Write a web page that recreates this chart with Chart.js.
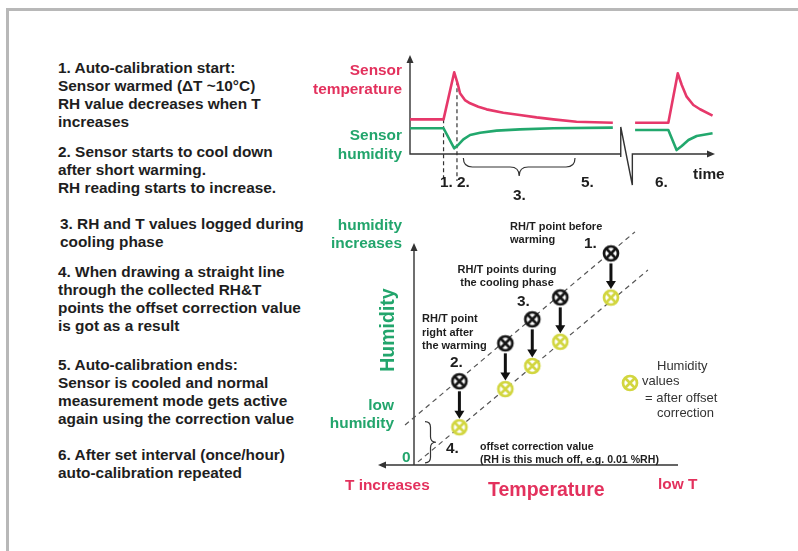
<!DOCTYPE html>
<html lang="en">
<head>
<meta charset="UTF-8">
<title>Auto-calibration</title>
<script src="https://cdn.jsdelivr.net/npm/chart.js"></script>
<style>
  body { margin: 0; background: #fff; }
  #page { position: relative; width: 798px; height: 551px; overflow: hidden;
          font-family: "Liberation Sans", Arial, sans-serif; color: #1e1e1e; }
  #frame { position: absolute; left: 6px; top: 8px; width: 820px; height: 560px;
           border-left: 3px solid #b8b8b8; border-top: 3px solid #b8b8b8; }
  .t { position: absolute; white-space: nowrap; font-weight: bold; font-size: 15.4px; line-height: 18px; }
  .steps { position: absolute; left: 58px; white-space: nowrap; font-weight: bold; font-size: 15.4px; line-height: 18px; }
  .small { position: absolute; white-space: nowrap; font-weight: bold; font-size: 11px; line-height: 13.4px; }
  .note { position: absolute; white-space: nowrap; font-size: 13px; line-height: 16px; color: #333; }
  .red { color: #e3315d; }
  .green { color: #22a56c; }
  canvas { position: absolute; }
</style>
</head>
<body>
<div id="page">
  <div id="frame"></div>

  <div class="steps" style="top:59px">1. Auto-calibration start:<br>Sensor warmed (ΔT ~10°C)<br>RH value decreases when T<br>increases</div>
  <div class="steps" style="top:143px">2. Sensor starts to cool down<br>after short warming.<br>RH reading starts to increase.</div>
  <div class="steps" style="top:215px;left:60px">3. RH and T values logged during<br>cooling phase</div>
  <div class="steps" style="top:263px">4. When drawing a straight line<br>through the collected RH&amp;T<br>points the offset correction value<br>is got as a result</div>
  <div class="steps" style="top:356px">5. Auto-calibration ends:<br>Sensor is cooled and normal<br>measurement mode gets active<br>again using the correction value</div>
  <div class="steps" style="top:446px">6. After set interval (once/hour)<br>auto-calibration repeated</div>

  <canvas id="timeChart" width="340" height="150" style="left:395px;top:45px"></canvas>
  <canvas id="rhtChart" width="350" height="270" style="left:350px;top:215px"></canvas>

  <!-- top chart labels -->
  <div class="t red" style="right:396px;top:60px;text-align:right;line-height:19px">Sensor<br>temperature</div>
  <div class="t green" style="right:396px;top:125px;text-align:right;line-height:19px">Sensor<br>humidity</div>
  <div class="t" style="left:440px;top:173px">1.</div>
  <div class="t" style="left:457px;top:173px">2.</div>
  <div class="t" style="left:513px;top:186px">3.</div>
  <div class="t" style="left:581px;top:173px">5.</div>
  <div class="t" style="left:655px;top:173px">6.</div>
  <div class="t" style="left:693px;top:165px">time</div>

  <!-- bottom chart labels -->
  <div class="t green" style="right:396px;top:216px;text-align:right">humidity<br>increases</div>
  <div class="t green" style="right:404px;top:396px;text-align:right">low<br>humidity</div>
  <div class="t green" style="left:402px;top:448px">0</div>
  <div class="t green" style="left:387px;top:330px;font-size:19.5px;transform:translate(-50%,-50%) rotate(-90deg)">Humidity</div>
  <div class="t red" style="left:345px;top:476px">T increases</div>
  <div class="t red" style="left:488px;top:478px;font-size:19.5px;line-height:23px">Temperature</div>
  <div class="t red" style="left:658px;top:475px">low T</div>

  <div class="small" style="left:510px;top:220px">RH/T point before<br>warming</div>
  <div class="t" style="left:584px;top:234px">1.</div>
  <div class="small" style="left:507px;top:263px;transform:translateX(-50%);text-align:center;line-height:12.8px">RH/T points during<br>the cooling phase</div>
  <div class="t" style="left:517px;top:292px">3.</div>
  <div class="small" style="left:422px;top:312px;line-height:13.7px">RH/T point<br>right after<br>the warming</div>
  <div class="t" style="left:450px;top:353px">2.</div>
  <div class="t" style="left:446px;top:439px">4.</div>
  <div class="small" style="left:480px;top:440px;font-size:10.6px;line-height:12.5px">offset correction value<br>(RH is this much off, e.g. 0.01 %RH)</div>

  <div class="note" style="left:657px;top:358px">Humidity</div>
  <div class="note" style="left:642px;top:373px">values</div>
  <div class="note" style="left:645px;top:390px">= after offset</div>
  <div class="note" style="left:657px;top:405px">correction</div>
</div>

<script>
  // top chart: one auto-calibration cycle, then the start of the next one
  const tempTimes = [0, 11, 14.5, 15.6, 16.4, 18, 19.7, 22.4, 25.1, 30.6, 36, 41.5, 47, 54.6, 66.5];
  const tempValues = [35, 35, 82.5, 71.4, 61.3, 54.5, 51.2, 47.8, 45.1, 41.7, 39.4, 37, 35, 32.6, 31.6];
  const humTimes = [0, 11, 14.5, 15.8, 17.5, 19.7, 23, 28.4, 36, 47, 66.5];
  const humValues = [26, 26, 5.7, 9.1, 14.8, 19.2, 21.5, 23.6, 24.9, 26, 26.6];
  const nextTempTimes = [73.8, 84.7, 87.8, 89.1, 90.7, 92.9, 95.1, 99.2];
  const nextTempValues = [31.6, 31.6, 81.5, 69.7, 57.9, 49.5, 45.2, 38.7];
  const nextHumTimes = [73.8, 84.7, 87.4, 89.1, 91.3, 94, 99.2];
  const nextHumValues = [24.2, 24.2, 4, 8.1, 14.1, 18.2, 20.9];
  const stepTimes = [11, 15.4];       // dashed lines at step 1. and 2.
  const coolingPhase = [17.5, 54.1];  // brace for step 3.
  const axisBreak = [69.1, 72.9];

  // bottom chart: RH/T points (temperature axis runs right to left)
  const pointTemps = [25.4, 44.6, 55.2, 65.4, 82.8];
  const rawHumidity = [95.3, 75.5, 65.6, 54.8, 37.7];
  const correctedHumidity = [75.4, 55.5, 44.6, 34.2, 17];
  const rawLineTemps = [103.4, 16.3];
  const rawLineHumidity = [18, 105];
  const fitLineTemps = [98.5, 11.4];
  const fitLineHumidity = [1.4, 87.8];
  const offsetSpan = [1, 19.5];

  const RED = '#e6386a';
  const GREEN = '#22a86d';
  const YELLOW = '#d2d640';
  const INK = '#333';

  const pts = (xs, ys) => xs.map((x, i) => ({ x: x, y: ys[i] }));

  function valueAt(xs, ys, t) {
    for (let i = 1; i < xs.length; i++) {
      if (t <= xs[i]) return ys[i - 1] + (ys[i] - ys[i - 1]) * (t - xs[i - 1]) / (xs[i] - xs[i - 1]);
    }
    return ys[ys.length - 1];
  }

  function arrowHead(ctx, x, y, dir, len, half) {
    ctx.beginPath();
    ctx.moveTo(x, y);
    if (dir === 'up') { ctx.lineTo(x - half, y + len); ctx.lineTo(x + half, y + len); }
    if (dir === 'down') { ctx.lineTo(x - half, y - len); ctx.lineTo(x + half, y - len); }
    if (dir === 'right') { ctx.lineTo(x - len, y - half); ctx.lineTo(x - len, y + half); }
    if (dir === 'left') { ctx.lineTo(x + len, y - half); ctx.lineTo(x + len, y + half); }
    ctx.closePath();
    ctx.fill();
  }

  function makeMarker(color) {
    const c = document.createElement('canvas');
    c.width = 20; c.height = 20;
    const g = c.getContext('2d');
    g.fillStyle = '#fff';
    g.strokeStyle = color;
    g.lineWidth = 2.7;
    g.beginPath(); g.arc(10, 10, 7, 0, Math.PI * 2); g.fill(); g.stroke();
    const d = 4.7;
    g.beginPath();
    g.moveTo(10 - d, 10 - d); g.lineTo(10 + d, 10 + d);
    g.moveTo(10 + d, 10 - d); g.lineTo(10 - d, 10 + d);
    g.stroke();
    return c;
  }
  const rawMarker = makeMarker('#151515');
  const corrMarker = makeMarker(YELLOW);

  const baseOptions = (padding, xOpts) => ({
    responsive: false,
    animation: false,
    events: [],
    layout: { padding: padding },
    plugins: { legend: { display: false }, tooltip: { enabled: false } },
    scales: {
      x: Object.assign({ type: 'linear', min: 0, max: 100, display: false }, xOpts),
      y: { type: 'linear', min: 0, max: 100, display: false }
    }
  });

  const timeDecor = {
    id: 'timeDecor',
    beforeDatasetsDraw(chart) {
      const { ctx, chartArea: a, scales: { x, y } } = chart;
      const y0 = y.getPixelForValue(0);
      const b0 = x.getPixelForValue(axisBreak[0]);
      const b1 = x.getPixelForValue(axisBreak[1]);
      ctx.save();
      ctx.strokeStyle = INK; ctx.fillStyle = INK; ctx.lineWidth = 1.4;
      ctx.beginPath();
      ctx.moveTo(a.left, a.top + 6); ctx.lineTo(a.left, y0); ctx.lineTo(b0, y0);
      ctx.moveTo(b0, y0 + 3); ctx.lineTo(b0, y0 - 27); ctx.lineTo(b1, y0 + 31); ctx.lineTo(b1, y0);
      ctx.lineTo(a.right - 6, y0);
      ctx.stroke();
      arrowHead(ctx, a.left, a.top, 'up', 8, 3.5);
      arrowHead(ctx, a.right, y0, 'right', 8, 3.5);

      // dashed step markers
      ctx.lineWidth = 1.2;
      ctx.setLineDash([4, 3]);
      stepTimes.forEach(t => {
        const px = x.getPixelForValue(t);
        ctx.beginPath();
        ctx.moveTo(px, y.getPixelForValue(valueAt(tempTimes, tempValues, t)));
        ctx.lineTo(px, y0 + 27);
        ctx.stroke();
      });
      ctx.setLineDash([]);

      // brace under the cooling phase
      const x1 = x.getPixelForValue(coolingPhase[0]);
      const x2 = x.getPixelForValue(coolingPhase[1]);
      const mid = (x1 + x2) / 2, top = y0 + 4, h = 18;
      ctx.lineWidth = 1.2;
      ctx.beginPath();
      ctx.moveTo(x1, top);
      ctx.quadraticCurveTo(x1, top + h / 2, x1 + h / 2, top + h / 2);
      ctx.lineTo(mid - h / 2, top + h / 2);
      ctx.quadraticCurveTo(mid, top + h / 2, mid, top + h);
      ctx.quadraticCurveTo(mid, top + h / 2, mid + h / 2, top + h / 2);
      ctx.lineTo(x2 - h / 2, top + h / 2);
      ctx.quadraticCurveTo(x2, top + h / 2, x2, top);
      ctx.stroke();
      ctx.restore();
    }
  };

  const curve = (data, color) => ({
    data: data, showLine: true, borderColor: color, borderWidth: 2.6,
    pointRadius: 0, tension: 0, clip: false, borderJoinStyle: 'round'
  });

  new Chart(document.getElementById('timeChart'), {
    type: 'scatter',
    data: {
      datasets: [
        curve(pts(tempTimes, tempValues), RED),
        curve(pts(nextTempTimes, nextTempValues), RED),
        curve(pts(humTimes, humValues), GREEN),
        curve(pts(nextHumTimes, nextHumValues), GREEN)
      ]
    },
    options: baseOptions({ left: 15, top: 10, right: 20, bottom: 41 }, {}),
    plugins: [timeDecor]
  });

  const rhtDecor = {
    id: 'rhtDecor',
    beforeDatasetsDraw(chart) {
      const { ctx, chartArea: a, scales: { y } } = chart;
      const y0 = y.getPixelForValue(0);
      ctx.save();
      ctx.strokeStyle = INK; ctx.fillStyle = INK; ctx.lineWidth = 1.4;
      ctx.beginPath();
      ctx.moveTo(a.left, a.top + 6); ctx.lineTo(a.left, y0);
      ctx.moveTo(a.right, y0); ctx.lineTo(a.left - 30, y0);
      ctx.stroke();
      arrowHead(ctx, a.left, a.top, 'up', 8, 3.5);
      arrowHead(ctx, a.left - 36, y0, 'left', 8, 3.5);

      // brace for the offset correction value
      const t = y.getPixelForValue(offsetSpan[1]);
      const b = y.getPixelForValue(offsetSpan[0]);
      const mid = (t + b) / 2, left = a.left + 11, w = 11;
      ctx.lineWidth = 1.2;
      ctx.beginPath();
      ctx.moveTo(left, t);
      ctx.quadraticCurveTo(left + w / 2, t, left + w / 2, t + w / 2);
      ctx.lineTo(left + w / 2, mid - w / 2);
      ctx.quadraticCurveTo(left + w / 2, mid, left + w, mid);
      ctx.quadraticCurveTo(left + w / 2, mid, left + w / 2, mid + w / 2);
      ctx.lineTo(left + w / 2, b - w / 2);
      ctx.quadraticCurveTo(left + w / 2, b, left, b);
      ctx.stroke();
      ctx.restore();
    },
    afterDatasetsDraw(chart) {
      const { ctx, chartArea: a, scales: { x, y } } = chart;
      ctx.save();
      ctx.strokeStyle = '#111'; ctx.fillStyle = '#111'; ctx.lineWidth = 3;
      pointTemps.forEach((t, i) => {
        const px = x.getPixelForValue(t);
        const from = y.getPixelForValue(rawHumidity[i]) + 10;
        const tip = y.getPixelForValue(correctedHumidity[i]) - 8.5;
        ctx.beginPath();
        ctx.moveTo(px, from); ctx.lineTo(px, tip - 6);
        ctx.stroke();
        arrowHead(ctx, px, tip, 'down', 8, 5);
      });
      // legend symbol for corrected values, left of its note text
      ctx.drawImage(corrMarker, a.right - 58, a.top + 130);
      ctx.restore();
    }
  };

  const dashed = data => ({
    data: data, showLine: true, borderColor: '#555', borderWidth: 1.2,
    borderDash: [5, 4], pointRadius: 0, clip: false
  });

  new Chart(document.getElementById('rhtChart'), {
    type: 'scatter',
    data: {
      datasets: [
        { data: pts(pointTemps, rawHumidity), pointStyle: rawMarker, pointRadius: 10, clip: false },
        { data: pts(pointTemps, correctedHumidity), pointStyle: corrMarker, pointRadius: 10, clip: false },
        dashed(pts(rawLineTemps, rawLineHumidity)),
        dashed(pts(fitLineTemps, fitLineHumidity))
      ]
    },
    options: baseOptions({ left: 64, top: 28, right: 22, bottom: 20 }, { reverse: true }),
    plugins: [rhtDecor]
  });
</script>
</body>
</html>
